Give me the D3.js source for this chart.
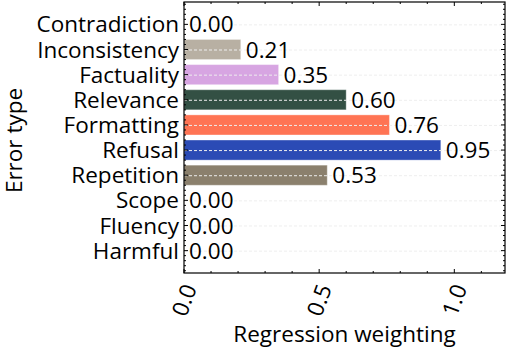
<!DOCTYPE html>
<html lang="en">
<head>
<meta charset="utf-8">
<script src="https://cdn.jsdelivr.net/npm/d3@7"></script>
<style>
  body { margin: 0; background: #fff; }
  text { font-family: "Open Sans", sans-serif; fill: #000; }
</style>
</head>
<body>
<svg width="506" height="352"></svg>
<script>
// error types, top to bottom
var categories = ["Contradiction", "Inconsistency", "Factuality", "Relevance", "Formatting",
                  "Refusal", "Repetition", "Scope", "Fluency", "Harmful"];
var weights = [0.00, 0.21, 0.35, 0.60, 0.76, 0.95, 0.53, 0.00, 0.00, 0.00];
var colors = ["#b8b0a3", "#b8b0a3", "#d7a5e2", "#335044", "#ff7454",
              "#2b4bb5", "#8b806d", "#8b806d", "#8b806d", "#8b806d"];
var xTicks = [0.0, 0.5, 1.0];

var svg = d3.select("svg");
var pl = 184, pr = 505, pt = 2, pb = 273;
var fs = "22.5px";

var x = d3.scaleLinear().domain([0, 1.1875]).range([pl, pr]);
var y = d3.scaleLinear().domain([-0.89, categories.length - 1 + 0.89]).range([pt, pb]);
var barH = (y(0.4) - y(-0.4));

// bars
svg.selectAll(".bar")
    .data(weights)
    .enter().append("rect")
    .attr("class", "bar")
    .attr("x", x(0))
    .attr("y", function(d, i) { return y(i) - barH / 2; })
    .attr("width", function(d) { return x(d) - x(0); })
    .attr("height", barH)
    .attr("fill", function(d, i) { return colors[i]; })
    .attr("stroke", "rgba(255,255,255,0.35)")
    .attr("stroke-width", 1);

// dashed grid, drawn over the bars
svg.selectAll(".grid")
    .data(categories)
    .enter().append("line")
    .attr("x1", pl).attr("x2", pr)
    .attr("y1", function(d, i) { return y(i) + 0.5; })
    .attr("y2", function(d, i) { return y(i) + 0.5; })
    .attr("stroke", "#eeeeee")
    .attr("stroke-width", 1)
    .attr("stroke-dasharray", "3,2");

// value labels
svg.selectAll(".val")
    .data(weights)
    .enter().append("text")
    .attr("x", function(d) { return x(d) + 5; })
    .attr("y", function(d, i) { return y(i); })
    .attr("dy", "0.36em")
    .style("font-size", fs)
    .text(function(d) { return d.toFixed(2); });

// frame
svg.append("rect")
    .attr("x", pl).attr("y", pt)
    .attr("width", pr - pl).attr("height", pb - pt)
    .attr("fill", "none").attr("stroke", "#000").attr("stroke-width", 1.2);

// ticks, inward on all sides
var g = svg.append("g").attr("stroke", "#000").attr("stroke-width", 1);
d3.range(0, 1.19, 0.1).forEach(function(v, k) {
    var len = (k % 5 == 0) ? 4 : 2;
    g.append("line").attr("x1", x(v)).attr("x2", x(v)).attr("y1", pb).attr("y2", pb - len);
    g.append("line").attr("x1", x(v)).attr("x2", x(v)).attr("y1", pt).attr("y2", pt + len);
});
d3.range(-0.8, categories.length - 1 + 0.89, 0.2).forEach(function(v) {
    var major = Math.abs(v - Math.round(v)) < 1e-6;
    var len = major ? 4 : 2;
    g.append("line").attr("x1", pl).attr("x2", pl + len).attr("y1", y(v)).attr("y2", y(v));
    g.append("line").attr("x1", pr).attr("x2", pr - len).attr("y1", y(v)).attr("y2", y(v));
});

// category labels
svg.selectAll(".cat")
    .data(categories)
    .enter().append("text")
    .attr("x", pl - 5)
    .attr("y", function(d, i) { return y(i); })
    .attr("dy", "0.36em")
    .attr("text-anchor", "end")
    .style("font-size", fs)
    .text(function(d) { return d; });

// x tick labels, rotated
svg.selectAll(".xt")
    .data(xTicks)
    .enter().append("text")
    .attr("transform", function(d) { return "translate(" + x(d) + ",300) rotate(-70)"; })
    .attr("text-anchor", "middle")
    .attr("dy", "0.36em")
    .style("font-size", fs)
    .text(function(d) { return d.toFixed(1); });

// axis titles
svg.append("text")
    .attr("x", (pl + pr) / 2)
    .attr("y", 342)
    .attr("text-anchor", "middle")
    .style("font-size", fs)
    .text("Regression weighting");

svg.append("text")
    .attr("transform", "translate(22," + ((pt + pb) / 2 + 3) + ") rotate(-90)")
    .attr("text-anchor", "middle")
    .style("font-size", fs)
    .text("Error type");
</script>
</body>
</html>
